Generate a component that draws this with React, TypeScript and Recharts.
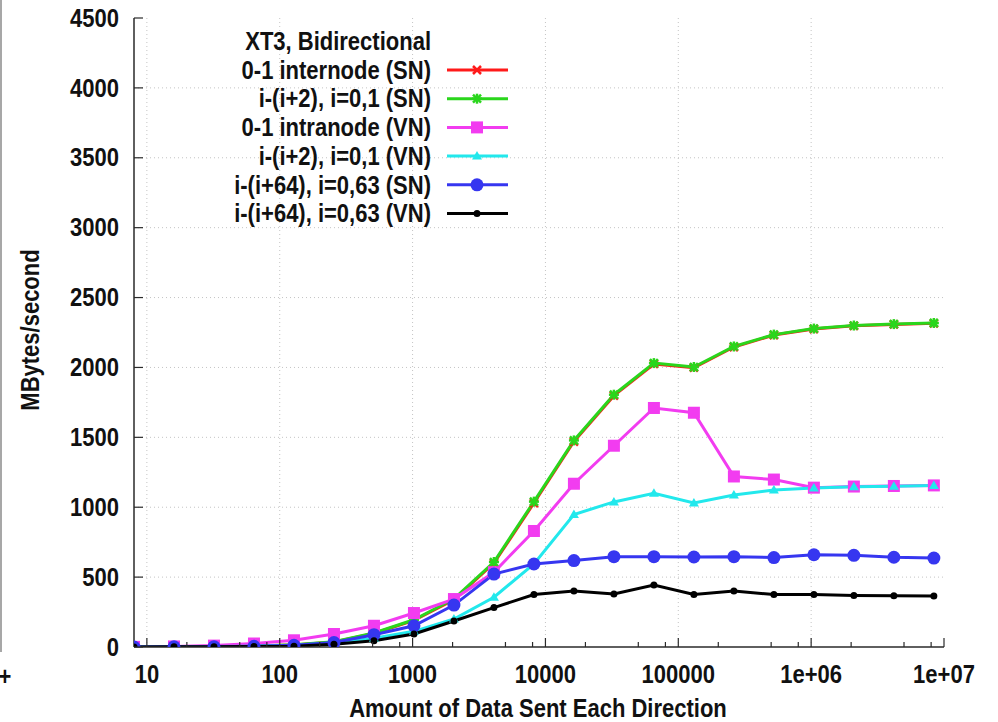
import { LineChart, Line, XAxis, YAxis, ReferenceLine } from 'recharts';

// message sizes in bytes, 8 .. 8M
const sizes = [
  8, 16, 32, 64, 128, 256, 512, 1024, 2048, 4096, 8192, 16384, 32768, 65536,
  131072, 262144, 524288, 1048576, 2097152, 4194304, 8388608,
];

// MBytes/second
const internodeSN = [1, 2, 4, 8, 15, 36, 97, 190, 338, 600, 1030, 1470, 1798, 2025, 1998, 2146, 2232, 2275, 2298, 2308, 2316];
const plus2SN = [1, 2, 4, 8, 16, 38, 100, 195, 345, 608, 1040, 1478, 1805, 2031, 2003, 2150, 2235, 2278, 2300, 2310, 2318];
const intranodeVN = [1, 4, 10, 25, 48, 93, 152, 243, 343, 535, 830, 1168, 1440, 1710, 1676, 1220, 1198, 1140, 1148, 1152, 1156];
const plus2VN = [1, 2, 3, 6, 12, 28, 62, 112, 200, 356, 595, 948, 1038, 1100, 1030, 1088, 1123, 1138, 1146, 1150, 1155];
const plus64SN = [0, 1, 2, 5, 12, 32, 88, 152, 300, 522, 594, 618, 646, 646, 644, 646, 640, 660, 656, 642, 636];
const plus64VN = [0, 1, 1, 3, 6, 20, 45, 93, 186, 282, 375, 400, 380, 443, 375, 400, 375, 375, 368, 366, 364];

const xMajor = [10, 100, 1000, 10000, 100000, 1000000, 10000000];
const yTicks = [0, 500, 1000, 1500, 2000, 2500, 3000, 3500, 4000, 4500];

const legendTitle = 'XT3, Bidirectional';
const xTitle = 'Amount of Data Sent Each Direction';
const yTitle = 'MBytes/second';

type Mark = 'x' | 'star' | 'square' | 'triangle' | 'circle' | 'dot';

const series: { key: string; name: string; color: string; mark: Mark; values: number[] }[] = [
  { key: 'a', name: '0-1 internode (SN)', color: '#ff1a1a', mark: 'x', values: internodeSN },
  { key: 'b', name: 'i-(i+2), i=0,1 (SN)', color: '#2ad61c', mark: 'star', values: plus2SN },
  { key: 'c', name: '0-1 intranode (VN)', color: '#f23cf0', mark: 'square', values: intranodeVN },
  { key: 'd', name: 'i-(i+2), i=0,1 (VN)', color: '#22e8ec', mark: 'triangle', values: plus2VN },
  { key: 'e', name: 'i-(i+64), i=0,63 (SN)', color: '#3636f0', mark: 'circle', values: plus64SN },
  { key: 'f', name: 'i-(i+64), i=0,63 (VN)', color: '#000000', mark: 'dot', values: plus64VN },
];

const data = sizes.map((x, i) => {
  const row: Record<string, number> = { x };
  series.forEach((s) => (row[s.key] = s.values[i]));
  return row;
});

// log minor ticks (only 2, 5, 8 show up in the original)
const xMinor = xMajor.slice(0, -1).flatMap((d) => [2, 5, 8].map((k) => d * k));
const xAll = [...xMajor, ...xMinor].sort((a, b) => a - b);

const FONT = '"Liberation Sans", Arial, Helvetica, sans-serif';
const AXIS = '#2a2a2a';
const STRETCH = 1.13; // the original's glyphs are a bit taller than wide

// bold label, glyphs stretched a little in height
function Txt({ x, y, anchor = 'middle', rotate = 0, children }: { x: number; y: number; anchor?: string; rotate?: number; children: any }) {
  return (
    <text
      transform={`translate(${x} ${y}) rotate(${rotate}) scale(1 ${STRETCH})`}
      dy="0.35em"
      textAnchor={anchor}
      fontFamily={FONT}
      fontWeight="bold"
      fontSize={22}
      fill="#111"
    >
      {children}
    </text>
  );
}

function Marker({ cx, cy, mark, color }: { cx: number; cy: number; mark: Mark; color: string }) {
  switch (mark) {
    case 'x':
      return (
        <g stroke={color} strokeWidth={2.5}>
          <line x1={cx - 4} y1={cy - 4} x2={cx + 4} y2={cy + 4} />
          <line x1={cx - 4} y1={cy + 4} x2={cx + 4} y2={cy - 4} />
        </g>
      );
    case 'star':
      return (
        <g stroke={color} strokeWidth={2.5}>
          <line x1={cx - 4} y1={cy - 4} x2={cx + 4} y2={cy + 4} />
          <line x1={cx - 4} y1={cy + 4} x2={cx + 4} y2={cy - 4} />
          <line x1={cx - 5} y1={cy} x2={cx + 5} y2={cy} />
          <line x1={cx} y1={cy - 5} x2={cx} y2={cy + 5} />
        </g>
      );
    case 'square':
      return <rect x={cx - 6} y={cy - 6} width={12} height={12} fill={color} />;
    case 'triangle':
      return <polygon points={`${cx},${cy - 5} ${cx + 5},${cy + 3.5} ${cx - 5},${cy + 3.5}`} fill={color} />;
    case 'circle':
      return <circle cx={cx} cy={cy} r={6.5} fill={color} />;
    default:
      return <circle cx={cx} cy={cy} r={3.5} fill={color} />;
  }
}

function fmtX(v: number) {
  if (v >= 1000000) return '1e+' + String(Math.round(Math.log10(v))).padStart(2, '0');
  return String(v);
}

function BottomTick(props: any) {
  const { x, y, payload } = props;
  const major = xMajor.includes(payload.value);
  return (
    <g>
      <line x1={x} y1={y} x2={x} y2={y - (major ? 9 : 5)} stroke={AXIS} strokeWidth={1.2} />
      {major && <Txt x={x} y={y + 27}>{fmtX(payload.value)}</Txt>}
    </g>
  );
}

function TopTick(props: any) {
  const { x, y, payload } = props;
  const major = xMajor.includes(payload.value);
  return <line x1={x} y1={y} x2={x} y2={y + (major ? 9 : 5)} stroke={AXIS} strokeWidth={1.2} />;
}

function LeftTick(props: any) {
  const { x, y, payload } = props;
  return (
    <g>
      <line x1={x} y1={y} x2={x + 9} y2={y} stroke={AXIS} strokeWidth={1.2} />
      <Txt x={x - 15} y={y} anchor="end">{payload.value}</Txt>
    </g>
  );
}

function RightTick(props: any) {
  const { x, y } = props;
  return <line x1={x} y1={y} x2={x - 9} y2={y} stroke={AXIS} strokeWidth={1.2} />;
}

export default function App() {
  return (
    <div style={{ position: 'fixed', left: 0, top: 0, width: 998, height: 722, background: '#fff' }}>
      <LineChart width={998} height={722} data={data} margin={{ top: 18, right: 54, bottom: 0, left: 0 }}>
        {xMajor.slice(0, -1).map((v) => (
          <ReferenceLine key={'gx' + v} x={v} stroke="#c4c4c4" strokeDasharray="1 3" />
        ))}
        {yTicks.slice(1, -1).map((v) => (
          <ReferenceLine key={'gy' + v} y={v} stroke="#c4c4c4" strokeDasharray="1 3" />
        ))}
        <XAxis
          dataKey="x"
          type="number"
          scale="log"
          domain={[8, 10000000]}
          allowDataOverflow
          ticks={xAll}
          interval={0}
          height={75}
          tickSize={0}
          tickMargin={0}
          tickLine={false}
          axisLine={{ stroke: AXIS, strokeWidth: 1.5 }}
          tick={<BottomTick />}
        />
        <XAxis
          xAxisId="top"
          orientation="top"
          dataKey="x"
          type="number"
          scale="log"
          domain={[8, 10000000]}
          allowDataOverflow
          ticks={xAll}
          interval={0}
          height={0}
          tickSize={0}
          tickMargin={0}
          tickLine={false}
          axisLine={{ stroke: AXIS, strokeWidth: 1.5 }}
          tick={<TopTick />}
        />
        <YAxis
          type="number"
          domain={[0, 4500]}
          allowDataOverflow
          ticks={yTicks}
          interval={0}
          width={134}
          tickSize={0}
          tickMargin={0}
          tickLine={false}
          axisLine={{ stroke: AXIS, strokeWidth: 1.5 }}
          tick={<LeftTick />}
        />
        <YAxis
          yAxisId="right"
          orientation="right"
          type="number"
          domain={[0, 4500]}
          allowDataOverflow
          ticks={yTicks}
          interval={0}
          width={0}
          tickSize={0}
          tickMargin={0}
          tickLine={false}
          axisLine={{ stroke: AXIS, strokeWidth: 1.5 }}
          tick={<RightTick />}
        />
        {series.map((s) => (
          <Line
            key={s.key}
            type="linear"
            dataKey={s.key}
            name={s.name}
            stroke={s.color}
            strokeWidth={3}
            isAnimationActive={false}
            activeDot={false}
            dot={(p: any) => <Marker key={s.key + p.index} cx={p.cx} cy={p.cy} mark={s.mark} color={s.color} />}
          />
        ))}
      </LineChart>
      <svg width={998} height={722} style={{ position: 'absolute', left: 0, top: 0, pointerEvents: 'none' }}>
        <line x1={1} y1={0} x2={1} y2={652} stroke="#8a8a8a" strokeWidth={1.5} />
        <Txt x={5} y={676}>+</Txt>
        <Txt x={431} y={41} anchor="end">{legendTitle}</Txt>
        {series.map((s, i) => {
          const cy = 70 + i * 28.7;
          return (
            <g key={s.key}>
              <Txt x={431} y={cy} anchor="end">{s.name}</Txt>
              <line x1={447} y1={cy} x2={508} y2={cy} stroke={s.color} strokeWidth={3} />
              <Marker cx={477} cy={cy} mark={s.mark} color={s.color} />
            </g>
          );
        })}
        <Txt x={538} y={708}>{xTitle}</Txt>
        <Txt x={30} y={330} rotate={-90}>{yTitle}</Txt>
      </svg>
    </div>
  );
}
